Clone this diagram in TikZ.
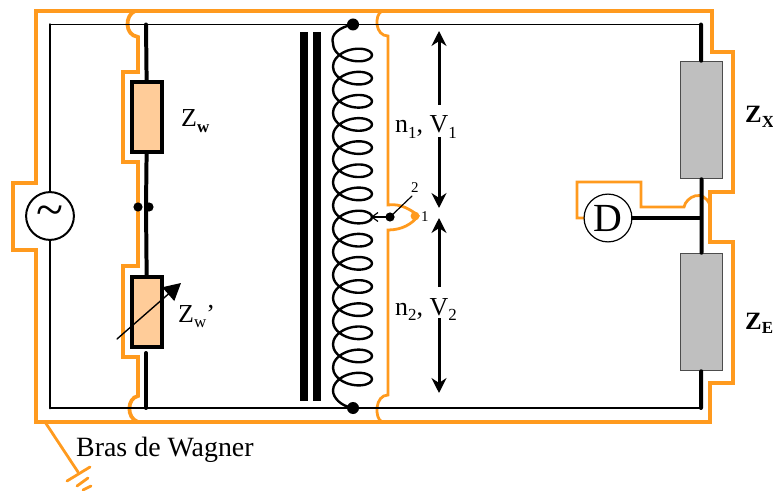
\documentclass[tikz,border=0pt]{standalone}
\usepackage{fontspec}
\setmainfont{Liberation Serif}
\usetikzlibrary{arrows.meta}
\definecolor{guard}{HTML}{FF9A1E}
\definecolor{armfill}{HTML}{FFCC99}
\definecolor{loadfill}{HTML}{BFBFBF}
\newcommand{\fs}[1]{\fontsize{#1}{#1}\selectfont}
\newcommand{\low}[2][0.2em]{\raisebox{-#1}{\fs{17}#2}}
\tikzset{
	guardline/.style={guard,line width=3.8pt},
	guardthin/.style={guard,line width=2.8pt},
	armbox/.style={draw,fill=armfill,line width=3.8pt,minimum width=30,minimum height=71,inner sep=0pt},
	loadbox/.style={draw=black!70,fill=loadfill,line width=1pt,minimum width=43,minimum height=118,inner sep=0pt},
	ring/.style={circle,draw,fill=white,inner sep=0pt,minimum size=48},
	lbl/.style={anchor=base west,inner sep=0pt,font=\fs{26}},
	volt/.style={-{Stealth[length=15pt,width=15pt]},line width=3pt,line cap=butt},
}
\begin{document}
\begin{tikzpicture}[x=1bp,y=-1bp,>=stealth,line join=miter,line cap=round,font=\fs{26}]
	\useasboundingbox (0,0) rectangle (773,491);
	\path (50,24.5) coordinate (TL)
	(146,24.5) coordinate (TA)
	(353,24.5) coordinate (TC)
	(701,24.5) coordinate (TR)
	(50,408) coordinate (BL)
	(146,408) coordinate (BA)
	(353,408) coordinate (BC)
	(701,408) coordinate (BR)
	(701,218) coordinate (DJ)
	(146,207) coordinate (AM)
	(146,353) coordinate (AL)
	(36,11) coordinate (GTL)
	(712,11) coordinate (GTR)
	(36,422) coordinate (GBL)
	(710,422) coordinate (GBR)
	(45,422) coordinate (GE)
	(78,472) coordinate (GF)
	(390,217) coordinate (W)
	(439,31) coordinate (VA)
	(439,105) coordinate (VB)
	(439,137) coordinate (VC)
	(439,208) coordinate (VD)
	(439,218) coordinate (VE)
	(439,287) coordinate (VF)
	(439,318) coordinate (VG)
	(439,393) coordinate (VH)
	;
	
	% guard circuit
	\draw[guardline] (GTL)--(GTR)--(712,52)--(733,52)--(733,192)--(710,192)--(710,242)--(733,242)--(733,383)--(710,383)--(GBR)--(GBL)--(36,250)--(13,250)--(13,183)--(36,183)--cycle;
	\draw[guardline] (135,11) .. controls (125,15) and (124,35) .. (138,37)--(138,72)--(123,72)--(123,162)--(138,162)--(138,266)--(123,266)--(123,357)--(138,357)--(138,396) .. controls (127,398) and (126,418) .. (138,422);
	\draw[guardthin] (382,11) .. controls (374,15) and (375,36) .. (388,36)--(388,205) .. controls (400,203) and (412,210) .. (418,216) .. controls (412,224) and (402,230) .. (388,230)--(388,395) .. controls (375,395) and (374,418) .. (382,422);
	\draw[guardthin] (587,218)--(577,218)--(577,182)--(641,182)--(641,207)--(684,207) .. controls (686,197) and (703,188) .. (710,205);
	\draw[guardthin] (GE)--(GF);
	\draw[guardthin] (67,481)--(90,467) (77,486)--(88,478) (83,490)--(91,486);
	\fill[guard] (415,216) circle (4.4);
	
	% source, arm, load
	\node[ring,line width=2pt] (S) at (50,216) {\fs{50}\raisebox{-2pt}{\textasciitilde}};
	\node[armbox] (ZA) at (147,117) {};
	\node[armbox] (ZB) at (147,312) {};
	\node[loadbox] (ZX) at (701.5,120) {};
	\node[loadbox] (ZE) at (701.5,312) {};
	\node[ring,line width=1.2pt] (D) at (608,218) {\fs{40}D};
	
	% black wires
	\draw[line width=2pt] (TL)--(TR);
	\draw[line width=2pt] (BL)--(BR);
	\draw[line width=3pt] (TL)--(S) (S)--(BL);
	\draw[line width=4pt] (TA)--(ZA) (ZA)--(AM)--(ZB) (AL)--(BA);
	\draw[line width=4pt] (TR)--(ZX) (ZX)--(ZE) (ZE)--(BR);
	\draw[line width=3.2pt] (D)--(DJ);
	\fill (138,207) circle (4.6) (149,207) circle (4.6);
	
	% core
	\fill (300,32) rectangle (307.5,400.5);
	\fill (313,32) rectangle (321,400.5);
	
	% coil
	\draw[line width=2.4pt,line join=round] (TC) .. controls (340,27) and (330,34) .. (333,43.5)
	--plot[variable=\t,domain=-180:5220,samples=361,smooth] ({352.5+19.5*cos(\t)},{55+\t/360*23.15-11.5*sin(\t)})
	.. controls (333,397) and (340,406) .. (BC);
	\fill (TC) circle (6) (BC) circle (6);
	
	% wiper
	\fill (W) circle (4.6);
	\draw[-{Straight Barb[length=6pt,width=9pt]},line width=1.2pt] (W)--(371,217);
	\draw[line width=1.2pt] (W)--(412,196);
	
	% adjustable arrow
	\draw[-{Triangle[length=17pt,width=18pt]},line width=1.4pt] (117,339)--(181,283);
	
	% voltage arrows
	\draw[volt] (VB)--(VA);
	\draw[volt] (VC)--(VD);
	\draw[volt] (VF)--(VE);
	\draw[volt] (VG)--(VH);
	
	% labels
	\node[lbl] (Lw) at (181,127) {Z\low{\textbf{w}}};
	\node[lbl] (Lv) at (178,322) {Z\low{w}'};
	\node[lbl,font=\fs{25}] (Lx) at (745,123) {\textbf{Z}\low{\textbf{X}}};
	\node[lbl,font=\fs{25}] (Ly) at (745,329) {\textbf{Z}\low{\textbf{E}}};
	\node[lbl] (La) at (395,133) {n\low{1}, V\low{1}};
	\node[lbl] (Lb) at (395,315) {n\low{2}, V\low{2}};
	\node[lbl,font=\fs{15}] (Lc) at (421,222) {1};
	\node[lbl,font=\fs{15}] (Ld) at (411,193) {2};
	\node[lbl,font=\fs{28}] (Le) at (76,456) {Bras de Wagner};
\end{tikzpicture}
\end{document}
